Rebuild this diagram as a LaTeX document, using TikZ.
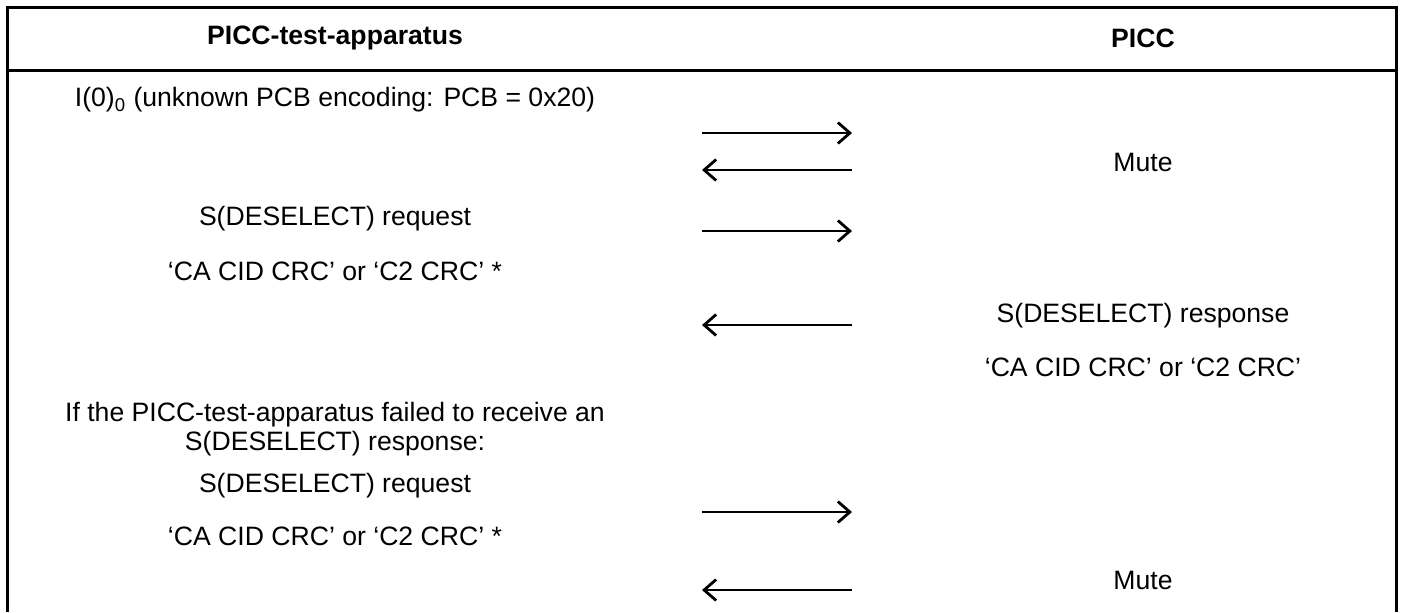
\documentclass[tikz,border=0pt]{standalone}
\usepackage{fontspec}
\setmainfont{Liberation Sans}
\usetikzlibrary{arrows.meta}
\tikzset{
  txt/.style={font=\fontsize{13.3}{16}\selectfont, inner sep=0pt},
  head/.style={txt, font=\fontsize{13.3}{16}\selectfont\bfseries},
  msg/.style={line width=1.2pt, -{Straight Barb[length=6pt,width=10.5pt,line width=1.4pt]}}
}
\begin{document}
\begin{tikzpicture}[x=0.5pt, y=-0.5pt]
    \useasboundingbox (0,0) rectangle (1402,612);
    % Marco de la tabla
    \draw[line width=1.5pt] (7,612) -- (7,7) -- (1396,7) -- (1396,612);
    \draw[line width=1.5pt] (7,70) -- (1396,70);

    % Cabeceras
    \node[head] (hdrPcd) at (335,38) {PICC-test-apparatus};
    \node[head] (hdrPicc) at (1143,38) {PICC};

    % Columna izquierda
    \node[txt] (iblock) at (335,100) {I(0)\textsubscript{0} (unknown PCB encoding: PCB = 0x20)};
    \node[txt] (desReq) at (335,219) {S(DESELECT) request};
    \node[txt] (desReqCode) at (335,271) {‘CA CID CRC’ or ‘C2 CRC’ *};
    \node[txt] (failA) at (335,415) {If the PICC-test-apparatus failed to receive an};
    \node[txt] (failB) at (335,444) {S(DESELECT) response:};
    \node[txt] (desReqB) at (335,486) {S(DESELECT) request};
    \node[txt] (desReqCodeB) at (335,536) {‘CA CID CRC’ or ‘C2 CRC’ *};

    % Columna derecha
    \node[txt] (muteA) at (1143,162) {Mute};
    \node[txt] (desResp) at (1143,316) {S(DESELECT) response};
    \node[txt] (desRespCode) at (1143,367) {‘CA CID CRC’ or ‘C2 CRC’};
    \node[txt] (muteB) at (1143,580) {Mute};

    % Extremos de las flechas
    \foreach \i/\y in {1/133, 2/170, 3/231, 4/325, 5/512, 6/590} {
        \coordinate (L\i) at (702,\y);
        \coordinate (R\i) at (852,\y);
    }

    % Mensajes
    \draw[msg] (L1) -- (R1);
    \draw[msg] (R2) -- (L2);
    \draw[msg] (L3) -- (R3);
    \draw[msg] (R4) -- (L4);
    \draw[msg] (L5) -- (R5);
    \draw[msg] (R6) -- (L6);
\end{tikzpicture}
\end{document}
